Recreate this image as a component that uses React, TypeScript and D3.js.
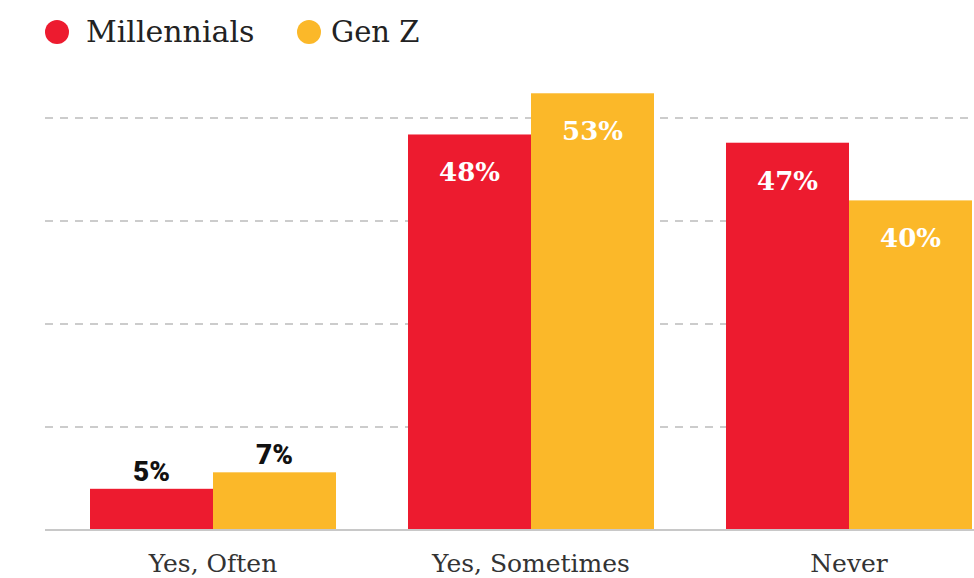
import * as d3 from 'd3';

const categories = ['Yes, Often', 'Yes, Sometimes', 'Never'];
const seriesNames = ['Millennials', 'Gen Z'];
const millennials = [5, 48, 47];
const genZ = [7, 53, 40];
const gridTicks = [12.5, 25, 37.5, 50];

const colors = ['#ed1b2f', '#fbb829'];

export default function App() {
  const width = 974;
  const height = 578;
  const baseline = 530;

  const x = d3.scaleBand<string>()
    .domain(categories)
    .range([90, 972])
    .paddingInner(0.2264)
    .paddingOuter(0);

  const xs = d3.scaleBand<string>()
    .domain(seriesNames)
    .range([0, x.bandwidth()])
    .padding(0);

  const y = d3.scaleLinear().domain([0, 50]).range([baseline, 118]);

  const series = [millennials, genZ];

  return (
    <div>
      <style>{'body{margin:0;background:#fff}'}</style>
      <svg width={width} height={height} style={{ display: 'block' }}>
        {/* legend */}
        <g>
          <circle cx={57} cy={32} r={12} fill={colors[0]} />
          <text x={86} y={42} fontFamily="'DejaVu Serif', serif" fontSize={30} fill="#222">Millennials</text>
          <circle cx={309} cy={32} r={12} fill={colors[1]} />
          <text x={331} y={42} fontFamily="'DejaVu Serif', serif" fontSize={29} fill="#222">Gen Z</text>
        </g>

        {/* gridlines */}
        {gridTicks.map(t => (
          <line key={t} x1={45} x2={974} y1={y(t)} y2={y(t)}
            stroke="#cccccc" strokeWidth={2} strokeDasharray="8 7" />
        ))}

        {/* bars */}
        {categories.map((c, i) => (
          <g key={c} transform={`translate(${x(c)},0)`}>
            {series.map((s, j) => {
              const v = s[i];
              const bx = xs(seriesNames[j]) || 0;
              const top = y(v);
              const inside = v >= 10;
              return (
                <g key={j}>
                  <rect x={bx} y={top} width={xs.bandwidth()} height={baseline - top} fill={colors[j]} />
                  <text
                    x={bx + xs.bandwidth() / 2}
                    y={inside ? top + 47 : top - 8}
                    textAnchor="middle"
                    fontFamily={inside ? "'DejaVu Serif', serif" : 'Roboto, sans-serif'}
                    fontWeight={inside ? 700 : 900}
                    fontSize={inside ? 26 : 28}
                    fill={inside ? '#fff' : '#111'}
                  >{v}%</text>
                </g>
              );
            })}
            <text x={x.bandwidth() / 2} y={572} textAnchor="middle"
              fontFamily="'DejaVu Serif', serif" fontSize={25} fill="#333">{c}</text>
          </g>
        ))}

        {/* baseline */}
        <line x1={45} x2={974} y1={baseline} y2={baseline} stroke="#c8c8c8" strokeWidth={2} />
      </svg>
    </div>
  );
}
